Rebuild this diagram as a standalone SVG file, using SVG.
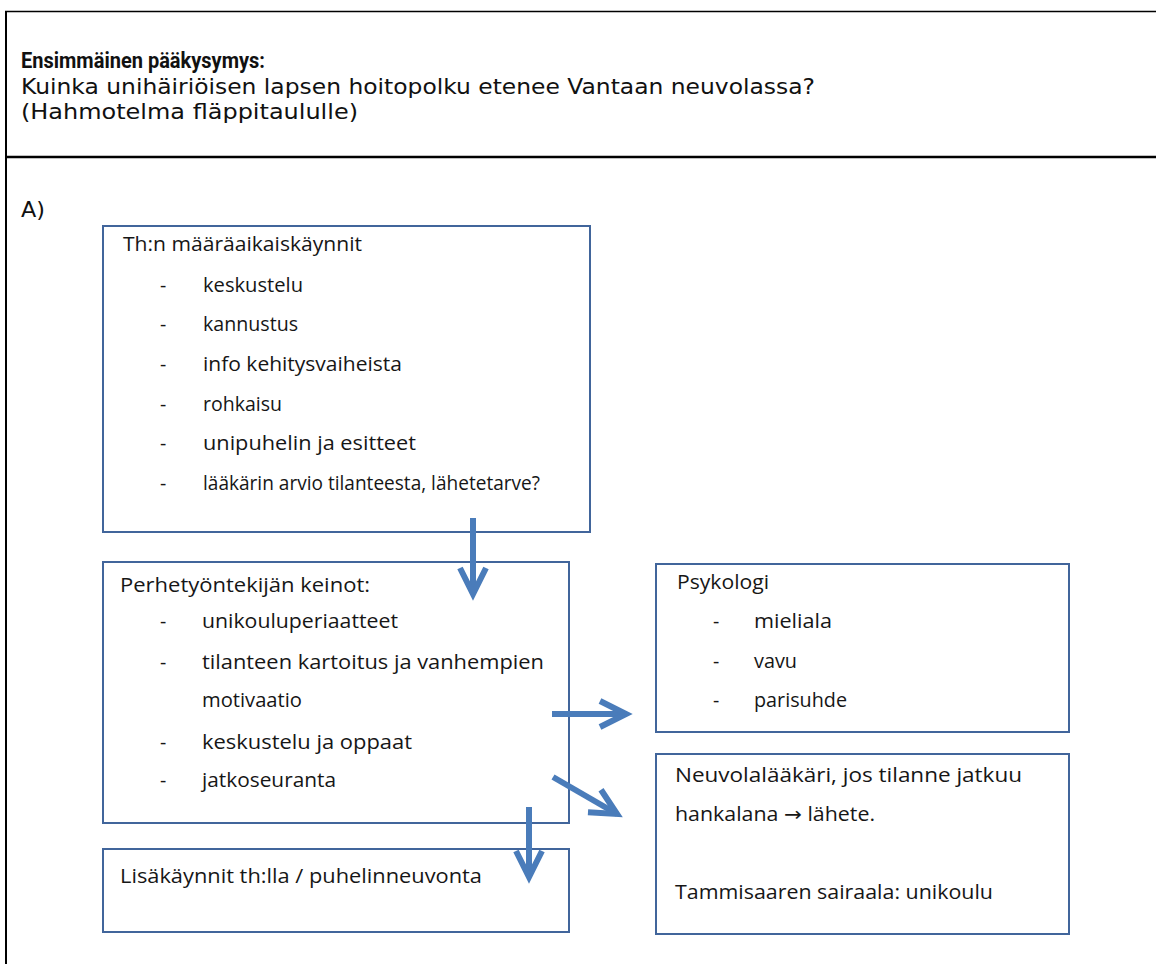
<svg xmlns="http://www.w3.org/2000/svg" width="1156" height="964" viewBox="0 0 1156 964">
  <style>
    .frame { stroke: #000; fill: none; }
    .box { fill: #fff; stroke: #41659b; stroke-width: 2; }
    .hdr { font-family: "DejaVu Sans", Verdana, sans-serif; font-size: 21px; fill: #111; }
    .hdr-b { font-family: Roboto, "Liberation Sans", sans-serif; font-weight: bold; font-size: 22px; }
    .txt { font-family: "Open Sans", "DejaVu Sans", sans-serif; font-size: 19.5px; fill: #161616; }
    .conn { stroke: #4a7cba; stroke-width: 6; fill: none; marker-end: url(#chevron); }
  </style>
  <defs>
    <marker id="chevron" markerUnits="userSpaceOnUse" viewBox="-40 -20 50 40" refX="0" refY="0" markerWidth="50" markerHeight="40" orient="auto" overflow="visible">
      <path d="M-26,-13 L0,0 L-26,13" fill="none" stroke="#4a7cba" stroke-width="6" stroke-linejoin="miter"/>
    </marker>
  </defs>

  <rect width="1156" height="964" fill="#fff"/>

  <!-- table frame -->
  <g id="frame">
    <line class="frame" x1="5" y1="11.5" x2="1156" y2="11.5" stroke-width="1.6"/>
    <line class="frame" x1="6" y1="11" x2="6" y2="964" stroke-width="2"/>
    <line class="frame" x1="5" y1="157" x2="1156" y2="157" stroke-width="2.4"/>
  </g>

  <!-- heading cell -->
  <g id="heading">
    <text class="hdr hdr-b" x="21" y="68" textLength="244" lengthAdjust="spacingAndGlyphs">Ensimmäinen pääkysymys:</text>
    <text class="hdr" x="21" y="94" textLength="794" lengthAdjust="spacingAndGlyphs">Kuinka unihäiriöisen lapsen hoitopolku etenee Vantaan neuvolassa?</text>
    <text class="hdr" x="21" y="119" textLength="337" lengthAdjust="spacingAndGlyphs">(Hahmotelma fläppitaululle)</text>
    <text class="hdr" x="21" y="217" textLength="24" lengthAdjust="spacingAndGlyphs">A)</text>
  </g>

  <!-- node: scheduled visits -->
  <g id="node-maaraaikaiskaynnit">
    <rect class="box" x="103" y="226" width="487" height="306"/>
    <text class="txt" x="123" y="251" textLength="239" lengthAdjust="spacingAndGlyphs">Th:n määräaikaiskäynnit</text>
    <text class="txt" x="160" y="292">-</text>
    <text class="txt" x="203" y="292" textLength="100" lengthAdjust="spacingAndGlyphs">keskustelu</text>
    <text class="txt" x="160" y="331">-</text>
    <text class="txt" x="203" y="331" textLength="95" lengthAdjust="spacingAndGlyphs">kannustus</text>
    <text class="txt" x="160" y="371">-</text>
    <text class="txt" x="203" y="371" textLength="199" lengthAdjust="spacingAndGlyphs">info kehitysvaiheista</text>
    <text class="txt" x="160" y="411">-</text>
    <text class="txt" x="203" y="411" textLength="79" lengthAdjust="spacingAndGlyphs">rohkaisu</text>
    <text class="txt" x="160" y="450">-</text>
    <text class="txt" x="203" y="450" textLength="213" lengthAdjust="spacingAndGlyphs">unipuhelin ja esitteet</text>
    <text class="txt" x="160" y="490">-</text>
    <text class="txt" x="203" y="490" textLength="337" lengthAdjust="spacingAndGlyphs">lääkärin arvio tilanteesta, lähetetarve?</text>
  </g>

  <!-- node: family worker methods -->
  <g id="node-perhetyontekija">
    <rect class="box" x="103" y="562" width="466" height="261"/>
    <text class="txt" x="120" y="592" textLength="250" lengthAdjust="spacingAndGlyphs">Perhetyöntekijän keinot:</text>
    <text class="txt" x="160" y="628">-</text>
    <text class="txt" x="202" y="628" textLength="196" lengthAdjust="spacingAndGlyphs">unikouluperiaatteet</text>
    <text class="txt" x="160" y="669">-</text>
    <text class="txt" x="202" y="669" textLength="342" lengthAdjust="spacingAndGlyphs">tilanteen kartoitus ja vanhempien</text>
    <text class="txt" x="202" y="707" textLength="100" lengthAdjust="spacingAndGlyphs">motivaatio</text>
    <text class="txt" x="160" y="749">-</text>
    <text class="txt" x="202" y="749" textLength="210" lengthAdjust="spacingAndGlyphs">keskustelu ja oppaat</text>
    <text class="txt" x="160" y="787">-</text>
    <text class="txt" x="202" y="787" textLength="134" lengthAdjust="spacingAndGlyphs">jatkoseuranta</text>
  </g>

  <!-- node: extra visits -->
  <g id="node-lisakaynnit">
    <rect class="box" x="103" y="849" width="466" height="83"/>
    <text class="txt" x="120" y="883" textLength="362" lengthAdjust="spacingAndGlyphs">Lisäkäynnit th:lla / puhelinneuvonta</text>
  </g>

  <!-- node: psychologist -->
  <g id="node-psykologi">
    <rect class="box" x="656" y="564" width="413" height="168"/>
    <text class="txt" x="677" y="589" textLength="92" lengthAdjust="spacingAndGlyphs">Psykologi</text>
    <text class="txt" x="713" y="628">-</text>
    <text class="txt" x="754" y="628" textLength="78" lengthAdjust="spacingAndGlyphs">mieliala</text>
    <text class="txt" x="713" y="668">-</text>
    <text class="txt" x="754" y="668" textLength="43" lengthAdjust="spacingAndGlyphs">vavu</text>
    <text class="txt" x="713" y="707">-</text>
    <text class="txt" x="754" y="707" textLength="93" lengthAdjust="spacingAndGlyphs">parisuhde</text>
  </g>

  <!-- node: clinic doctor / hospital -->
  <g id="node-neuvolalaakari">
    <rect class="box" x="656" y="754" width="413" height="180"/>
    <text class="txt" x="675" y="782" textLength="347" lengthAdjust="spacingAndGlyphs">Neuvolalääkäri, jos tilanne jatkuu</text>
    <text class="txt" x="675" y="821" textLength="200" lengthAdjust="spacingAndGlyphs">hankalana → lähete.</text>
    <text class="txt" x="675" y="899" textLength="318" lengthAdjust="spacingAndGlyphs">Tammisaaren sairaala: unikoulu</text>
  </g>

  <!-- connectors -->
  <g id="connectors">
    <line class="conn" x1="473" y1="518" x2="473" y2="594"/>
    <line class="conn" x1="552" y1="714" x2="626" y2="714"/>
    <line class="conn" x1="553" y1="777" x2="617" y2="814"/>
    <line class="conn" x1="529" y1="807" x2="529" y2="877"/>
  </g>
</svg>
